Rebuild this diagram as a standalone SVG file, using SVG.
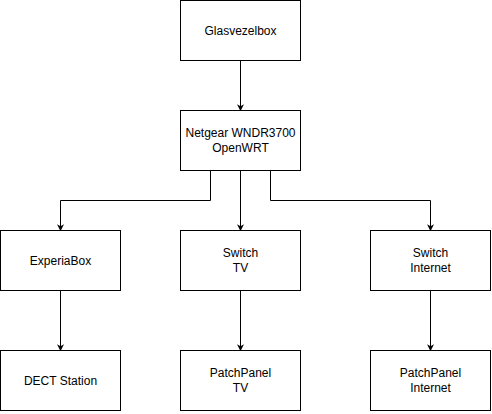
<svg xmlns="http://www.w3.org/2000/svg" width="492" height="414" viewBox="0 0 492 414">
<defs>
<style>
.box{fill:#fff;stroke:#000;stroke-width:1}
.lbl{font-family:"Liberation Sans",Arial,sans-serif;font-size:12px;fill:#000;text-anchor:middle}
.edge{fill:none;stroke:#000;stroke-width:1;marker-end:url(#arr)}
</style>
<marker id="arr" viewBox="0 0 10 10" refX="9" refY="5" markerWidth="7" markerHeight="7" markerUnits="userSpaceOnUse" orient="auto">
<path d="M0,0 L10,5 L0,10 L3,5 Z" fill="#000"/>
</marker>
</defs>
<rect width="492" height="414" fill="#fff"/>
<g id="connectors">
<path class="edge" d="M240.5,60.5 V110.5"/>
<path class="edge" d="M210.5,170.5 V200.5 H60.5 V230.5"/>
<path class="edge" d="M240.5,170.5 V230.5"/>
<path class="edge" d="M270.5,170.5 V200.5 H430.5 V230.5"/>
<path class="edge" d="M60.5,290.5 V350.5"/>
<path class="edge" d="M240.5,290.5 V350.5"/>
<path class="edge" d="M430.5,290.5 V350.5"/>
</g>
<g id="glasvezelbox"><rect class="box" x="180.5" y="0.5" width="120" height="60"/><text class="lbl" x="240.5" y="34.5">Glasvezelbox</text></g>
<g id="netgear"><rect class="box" x="180.5" y="110.5" width="120" height="60"/><text class="lbl" x="240.5" y="137">Netgear WNDR3700</text><text class="lbl" x="240.5" y="152">OpenWRT</text></g>
<g id="experiabox"><rect class="box" x="0.5" y="230.5" width="120" height="60"/><text class="lbl" x="60.5" y="264.5">ExperiaBox</text></g>
<g id="switch-tv"><rect class="box" x="180.5" y="230.5" width="120" height="60"/><text class="lbl" x="240.5" y="257">Switch</text><text class="lbl" x="240.5" y="272">TV</text></g>
<g id="switch-internet"><rect class="box" x="370.5" y="230.5" width="120" height="60"/><text class="lbl" x="430.5" y="257">Switch</text><text class="lbl" x="430.5" y="272">Internet</text></g>
<g id="dect"><rect class="box" x="0.5" y="350.5" width="120" height="60"/><text class="lbl" x="60.5" y="384.5">DECT Station</text></g>
<g id="patch-tv"><rect class="box" x="180.5" y="350.5" width="120" height="60"/><text class="lbl" x="240.5" y="377">PatchPanel</text><text class="lbl" x="240.5" y="392">TV</text></g>
<g id="patch-internet"><rect class="box" x="370.5" y="350.5" width="120" height="60"/><text class="lbl" x="430.5" y="377">PatchPanel</text><text class="lbl" x="430.5" y="392">Internet</text></g>
</svg>
